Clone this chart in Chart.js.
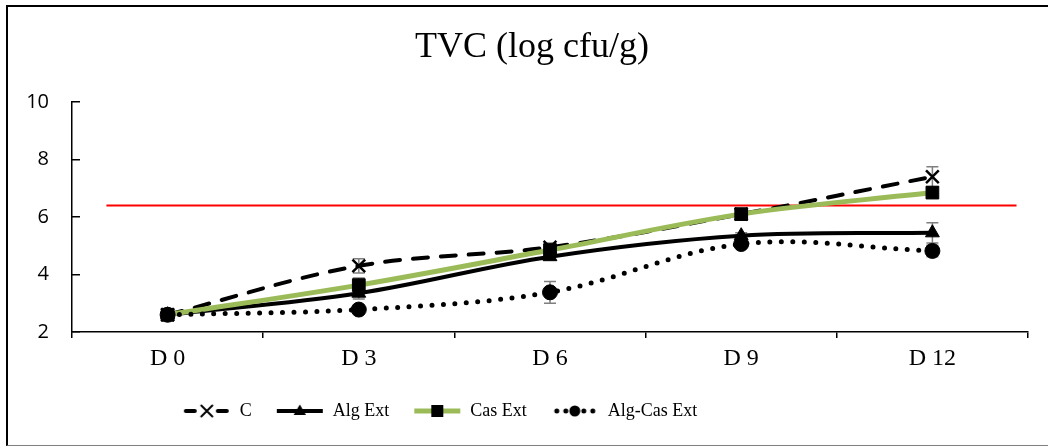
<!DOCTYPE html>
<html><head><meta charset="utf-8">
<script src="https://cdn.jsdelivr.net/npm/chart.js@4.4.1/dist/chart.umd.min.js"></script>
<style>
html,body{margin:0;padding:0;background:#fff;}
#wrap{position:relative;width:1048px;height:447px;overflow:hidden;background:#fff;}
#c{position:absolute;left:0;top:0;}
#frame{position:absolute;left:6px;top:5px;width:1042px;height:441px;border-top:2px solid #000;border-left:2px solid #000;border-bottom:1px solid #808080;box-sizing:border-box;pointer-events:none;}
</style></head><body>
<div id="wrap"><canvas id="c" width="1048" height="447"></canvas><div id="frame"></div></div>
<script>
// ---- data ----
const titleText = 'TVC (log cfu/g)';
const categories = ['D 0', 'D 3', 'D 6', 'D 9', 'D 12'];
const seriesNames = ['C', 'Alg Ext', 'Cas Ext', 'Alg-Cas Ext'];
const valuesC = [2.6, 4.3, 4.95, 6.1, 7.4];
const valuesAlg = [2.6, 3.35, 4.62, 5.35, 5.45];
const valuesCas = [2.6, 3.63, 4.85, 6.1, 6.85];
const valuesAlgCas = [2.6, 2.78, 3.38, 5.06, 4.82];
const errC = [0.05, 0.25, 0.15, 0.1, 0.35];
const errAlg = [0.05, 0.2, 0.1, 0.1, 0.35];
const errCas = [0.05, 0.25, 0.15, 0.12, 0.2];
const errAlgCas = [0.05, 0.1, 0.38, 0.1, 0.2];
const yTicks = [2, 4, 6, 8, 10];
const limitValue = 6.4;
const limitRange = [-0.32, 4.44];

// ---- styling helpers ----
const SERIF = "'Liberation Serif', 'Times New Roman', serif";
const SANS = "'Open Sans', 'Liberation Sans', sans-serif";

function drawMarker(c, style, x, y, s) {
  c.save();
  c.fillStyle = '#000'; c.strokeStyle = '#000';
  c.beginPath();
  if (style === 'crossRot') {
    c.lineWidth = 2;
    c.moveTo(x - s, y - s); c.lineTo(x + s, y + s);
    c.moveTo(x + s, y - s); c.lineTo(x - s, y + s);
    c.stroke();
  } else if (style === 'triangle') {
    c.moveTo(x, y - s); c.lineTo(x - s * 0.95, y + s * 0.6); c.lineTo(x + s * 0.95, y + s * 0.6);
    c.closePath(); c.fill();
  } else if (style === 'rect') {
    c.rect(x - s, y - s, 2 * s, 2 * s); c.fill();
  } else {
    c.arc(x, y, s, 0, Math.PI * 2); c.fill();
  }
  c.restore();
}

function makeIcon(ds) {
  const cv = document.createElement('canvas');
  cv.width = 60; cv.height = 20;
  const c = cv.getContext('2d');
  c.strokeStyle = ds.borderColor;
  c.lineWidth = ds.borderWidth;
  c.lineCap = 'round';
  const y = 10;
  if (ds.iconKind === 'dash') {
    c.beginPath(); c.moveTo(15, y); c.lineTo(24, y); c.moveTo(47, y); c.lineTo(56, y); c.stroke();
  } else if (ds.iconKind === 'dot') {
    c.setLineDash([0, 9]);
    c.beginPath(); c.moveTo(18, y); c.lineTo(56, y); c.stroke();
    c.setLineDash([]);
  } else {
    c.lineCap = 'butt';
    c.beginPath(); c.moveTo(13, y); c.lineTo(59, y); c.stroke();
  }
  const sz = {crossRot: 5.5, triangle: 6.5, rect: 6, circle: 5.5}[ds.pointStyle];
  drawMarker(c, ds.pointStyle, 36, y, sz);
  return cv;
}

const errorBars = {
  id: 'errorBars',
  beforeDatasetsDraw(chart) {
    const ctx = chart.ctx, ys = chart.scales.y;
    chart.data.datasets.forEach((ds, i) => {
      if (!ds.errors) return;
      const meta = chart.getDatasetMeta(i);
      ctx.save();
      ctx.strokeStyle = '#7f7f7f';
      ctx.lineWidth = 1.5;
      meta.data.forEach((pt, j) => {
        const v = ds.data[j], e = ds.errors[j];
        const y1 = ys.getPixelForValue(v + e), y2 = ys.getPixelForValue(v - e);
        const x = pt.x;
        ctx.beginPath();
        ctx.moveTo(x, y1); ctx.lineTo(x, y2);
        ctx.moveTo(x - 6, y1); ctx.lineTo(x + 6, y1);
        ctx.moveTo(x - 6, y2); ctx.lineTo(x + 6, y2);
        ctx.stroke();
      });
      ctx.restore();
    });
  }
};

// horizontal placement of the title and legend blocks (Excel placed them off-centre)
const blockShift = {
  id: 'blockShift',
  afterLayout(chart) {
    const t = chart.titleBlock;
    if (t) { t.left += 18; t.right += 18; }
    const l = chart.legend;
    if (l) { l.left -= 80; l.right -= 80; }
  }
};

const datasets = [
  {
    label: seriesNames[0], data: valuesC, errors: errC, order: 4, iconKind: 'dash',
    borderColor: '#000', borderWidth: 4, borderDash: [15, 13], borderCapStyle: 'round',
    pointStyle: 'crossRot', pointRadius: 9, pointBorderWidth: 2.5,
    pointBorderColor: '#000', pointBackgroundColor: '#000', tension: 0.35, fill: false
  },
  {
    label: seriesNames[1], data: valuesAlg, errors: errAlg, order: 3, iconKind: 'solid',
    borderColor: '#000', borderWidth: 4,
    pointStyle: 'triangle', pointRadius: 8, pointBorderWidth: 1,
    pointBorderColor: '#000', pointBackgroundColor: '#000', tension: 0.35, fill: false
  },
  {
    label: seriesNames[2], data: valuesCas, errors: errCas, order: 2, iconKind: 'solid',
    borderColor: '#9BBB59', borderWidth: 5,
    pointStyle: 'rect', pointRadius: 9, pointBorderWidth: 1,
    pointBorderColor: '#000', pointBackgroundColor: '#000', tension: 0.35, fill: false
  },
  {
    label: seriesNames[3], data: valuesAlgCas, errors: errAlgCas, order: 1, iconKind: 'dot',
    borderColor: '#000', borderWidth: 5, borderDash: [0, 11.5], borderCapStyle: 'round',
    pointStyle: 'circle', pointRadius: 7.5, pointBorderWidth: 1,
    pointBorderColor: '#000', pointBackgroundColor: '#000', tension: 0.35, fill: false
  },
  {
    label: 'limit', isLimit: true, order: 5, xAxisID: 'xr',
    data: limitRange.map(x => ({x: x, y: limitValue})),
    borderColor: '#FF0000', borderWidth: 2, pointRadius: 0, tension: 0, fill: false
  }
];

const icons = datasets.map(ds => ds.isLimit ? null : makeIcon(ds));

Chart.defaults.color = '#000';

new Chart(document.getElementById('c'), {
  type: 'line',
  data: { labels: categories, datasets: datasets },
  plugins: [errorBars, blockShift],
  options: {
    responsive: false,
    animation: false,
    devicePixelRatio: 1,
    layout: { padding: { left: 0, right: 20, top: 8, bottom: 17 } },
    plugins: {
      tooltip: { enabled: false },
      title: {
        display: true, text: titleText, color: '#000',
        font: { family: SERIF, size: 36, weight: 'normal', lineHeight: 1.2 },
        padding: { top: 18.4, bottom: 32.4 }
      },
      legend: {
        display: true, position: 'bottom', align: 'center',
        labels: {
          usePointStyle: true, pointStyleWidth: 60, padding: 12, color: '#000',
          font: { family: SERIF, size: 18 },
          generateLabels: (chart) => chart.data.datasets
            .map((ds, i) => ({
              text: ds.label, pointStyle: icons[i], datasetIndex: i, hidden: false,
              fontColor: '#000', lineWidth: 0, strokeStyle: 'rgba(0,0,0,0)', fillStyle: 'rgba(0,0,0,0)'
            }))
            .filter(it => !chart.data.datasets[it.datasetIndex].isLimit)
        }
      }
    },
    scales: {
      x: {
        type: 'category', offset: true, position: 'bottom',
        grid: { offset: true, drawOnChartArea: false, drawTicks: true, tickLength: 6, color: '#000', lineWidth: 1.5 },
        border: { display: true, color: '#000', width: 1.5 },
        ticks: { font: { family: SERIF, size: 24 }, color: '#000', padding: 6.6, maxRotation: 0 },
        afterFit: (s) => { s.height = 58; }
      },
      xr: {
        type: 'linear', display: false, min: -0.5, max: 4.5, position: 'bottom'
      },
      y: {
        type: 'linear', min: yTicks[0], max: yTicks[yTicks.length - 1],
        grid: { drawOnChartArea: false, drawTicks: true, tickLength: -8, color: '#000', lineWidth: 1.5 },
        border: { display: true, color: '#000', width: 1.5 },
        ticks: { stepSize: yTicks[1] - yTicks[0], font: { family: SANS, size: 20 }, color: '#000', padding: 31 },
        afterFit: (s) => { s.width = 72; }
      }
    }
  }
});
</script>
</body></html>
